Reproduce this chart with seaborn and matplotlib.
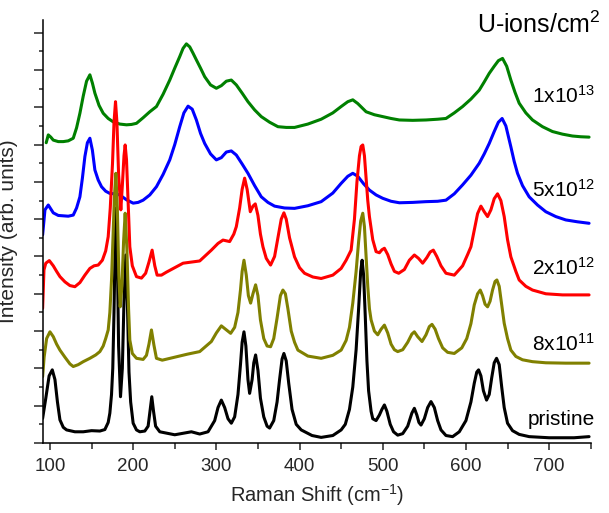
#Raman spectra of U-ion irradiated samples, stacked traces
#-------------------------------------------IMPORTS----------------------------------------------------------------
import matplotlib
matplotlib.use("Agg")
import matplotlib.pyplot as plt
from matplotlib.ticker import MultipleLocator
import numpy as np
import pandas as pd
import seaborn as sns

#----------------------------------------DATA----------------------------------------------------------------------
# x = Raman shift (cm-1), y = stacked intensity (arb. units, traces already offset)
pristine_x = [91.2, 95, 99, 102.8, 106, 109, 112, 116, 120, 130, 140, 150, 160, 166, 170, 172, 174, 175.5, 177,
              178.5, 179.5, 181, 182.5, 184.8, 187, 189, 191.2, 193, 195, 197, 200, 204, 208, 214, 218, 220.5,
              222.4, 224.5, 227, 232, 250, 270, 280, 290, 298, 302, 306, 310, 314, 318, 322, 326, 329, 331,
              333.2, 335.5, 338, 340, 343, 345, 347.2, 350, 353, 357, 361, 364, 369, 373, 376, 379, 381.2, 384,
              387, 391, 396, 402, 415, 426, 440, 450, 455, 460, 464, 468, 471, 473.5, 475.2, 477, 479, 481, 483,
              486, 488, 492, 496, 499, 502, 505, 509, 513, 518, 524, 530, 535, 538, 541, 543.5, 546, 550, 554,
              558, 562, 566, 570, 576, 584, 592, 600, 606, 610, 613, 615.2, 618, 621, 624.8, 628, 631, 634,
              636.8, 640, 643, 646, 650, 656, 664, 676, 700, 716, 730, 748]
pristine_y = [0.66, 1.2, 1.8, 1.96, 1.7, 1.1, 0.62, 0.42, 0.35, 0.3, 0.3, 0.33, 0.32, 0.36, 0.55, 0.8, 1.3, 2.0, 3.5,
              5.5, 6.3, 5.0, 2.6, 1.24, 2.0, 3.8, 5.04, 3.8, 1.9, 1.1, 0.53, 0.35, 0.3, 0.32, 0.45, 0.9,
              1.24, 0.85, 0.45, 0.3, 0.22, 0.3, 0.24, 0.3, 0.6, 0.95, 1.15, 0.95, 0.65, 0.53, 0.7, 1.3, 2.1, 2.7,
              2.98, 2.6, 1.7, 1.33, 1.7, 2.15, 2.36, 1.95, 1.2, 0.7, 0.45, 0.4, 0.6, 1.1, 1.7, 2.25, 2.4, 2.2,
              1.6, 0.9, 0.5, 0.35, 0.2, 0.15, 0.2, 0.35, 0.5, 0.9, 1.5, 2.5, 3.6, 4.6, 4.9, 4.5, 3.4, 2.2, 1.4,
              0.85, 0.65, 0.6, 0.75, 0.9, 1.02, 0.85, 0.5, 0.3, 0.21, 0.25, 0.45, 0.8, 0.93, 0.75, 0.55, 0.48, 0.65, 0.95,
              1.11, 0.95, 0.6, 0.35, 0.2, 0.17, 0.3, 0.6, 1.1, 1.6, 1.9, 1.96, 1.8, 1.4, 1.15, 1.3, 1.75, 2.15,
              2.27, 2.1, 1.5, 0.95, 0.53, 0.33, 0.23, 0.17, 0.14, 0.14, 0.14, 0.17]

d8e11_x = [91.2, 93, 96, 100, 104, 108, 112, 118, 124, 128, 134, 140, 148, 155, 160, 164, 167, 170, 172, 174, 176,
           177.5, 179.2, 181, 182.8, 184.4, 186.5, 188.5, 190.4, 192.5, 194.5, 196, 199, 204, 212, 216, 219, 222,
           225, 228, 235, 250, 265, 280, 294, 300, 306, 311, 317.2, 322, 326, 329, 331, 333.2, 336, 338.5, 341.2,
           344, 347.2, 350, 353, 357, 361, 365.2, 369, 373, 377, 380, 383, 386, 390, 394, 398, 410, 426, 440,
           450, 456, 460, 464, 468, 471, 473.5, 476, 478, 480, 482, 484, 486, 490, 494, 498, 502, 506, 510, 514,
           518, 524, 530, 535, 538, 542, 547.2, 552, 556, 559.2, 563, 567, 572, 578, 586, 595, 601, 606, 610,
           614, 617.2, 620, 623, 626, 629, 632, 635, 637.2, 640, 643, 646, 650, 654, 660, 668, 680, 696, 720, 748]
d8e11_y = [1.78, 2.3, 2.8, 2.98, 2.85, 2.65, 2.49, 2.3, 2.12, 2.05, 2.1, 2.18, 2.27, 2.36, 2.45, 2.6, 2.8, 3.03, 3.5, 4.37, 5.6,
           6.6, 7.23, 6.3, 4.5, 3.65, 4.2, 5.4, 6.16, 5.2, 3.6, 2.76, 2.4, 2.27, 2.24, 2.35, 2.65, 3.03,
           2.62, 2.27, 2.22, 2.3, 2.38, 2.45, 2.72, 2.95, 3.14, 3.05, 2.94, 3.1, 3.5, 4.1, 4.6, 4.9, 4.5, 3.95, 3.75,
           4.0, 4.24, 3.95, 3.3, 2.8, 2.6, 2.58, 2.8, 3.35, 3.95, 4.1, 4.0, 3.6, 3.0, 2.7, 2.49, 2.33, 2.27, 2.35,
           2.49, 2.75, 3.1, 3.75, 4.6, 5.4, 5.95, 6.16, 5.8, 5.0, 4.2, 3.6, 3.3, 3.0, 2.9, 3.05, 3.16, 2.95, 2.65, 2.5,
           2.45, 2.5, 2.7, 2.92, 2.98, 2.85, 2.72, 2.9, 3.12, 3.18, 3.05, 2.8, 2.55, 2.43, 2.4, 2.55, 2.8, 3.2, 3.7,
           4.0, 4.1, 3.95, 3.72, 3.65, 3.8, 4.1, 4.33, 4.37, 4.2, 3.7, 3.21, 2.8, 2.49, 2.32, 2.23, 2.18, 2.15, 2.14, 2.14]

d2e12_x = [91.2, 92.8, 95, 99.2, 104, 108, 112, 118, 124, 130, 136, 142, 148, 153, 158, 163, 167, 170, 172.5,
           175.2, 177, 178.8, 180.5, 182.5, 185.2, 187, 189, 190.4, 192, 194, 196, 199, 204, 210, 215, 219,
           222.8, 226, 228.8, 234, 240, 250, 260, 274, 280, 294, 302, 308, 316, 321, 324, 328, 331, 334, 337,
           340.8, 344, 346.8, 350, 353, 356, 360, 365.2, 370, 374, 378, 381.2, 384, 388, 394, 400, 406, 416,
           426, 440, 450, 456, 462, 466, 469, 472, 474, 476, 478, 480, 482, 484, 488, 492, 496, 499, 502, 506,
           510, 514, 519.2, 526, 532, 538, 543, 548, 553, 557, 560.8, 565, 570, 576, 586, 596, 602, 606, 610,
           614, 618, 622, 626, 630, 634, 638, 642, 646, 650, 654, 660, 664, 672, 680, 696, 716, 748]
d2e12_y = [3.61, 4.64, 4.82, 4.89, 4.75, 4.6, 4.46, 4.32, 4.22, 4.19, 4.3, 4.5, 4.68, 4.75, 4.77, 4.9, 5.15, 5.53, 6.3,
           7.5, 8.6, 9.15, 8.6, 7.2, 6.25, 6.9, 7.7, 7.99, 7.6, 6.4, 5.26, 4.75, 4.46, 4.42, 4.55, 4.85,
           5.17, 4.75, 4.5, 4.5, 4.58, 4.7, 4.82, 4.86, 4.88, 5.17, 5.35, 5.44, 5.4, 5.6, 5.8, 6.3, 6.8, 7.1, 6.8,
           6.2, 6.35, 6.41, 6.1, 5.6, 5.26, 4.95, 4.77, 5.0, 5.5, 6.0, 6.17, 6.0, 5.5, 4.99, 4.7, 4.55, 4.45,
           4.41, 4.5, 4.68, 4.9, 5.17, 6.0, 7.0, 7.7, 7.95, 7.99, 7.7, 7.1, 6.5, 6.07, 5.45, 5.13, 5.1, 5.18, 5.22, 5.05,
           4.8, 4.6, 4.55, 4.65, 4.9, 5.04, 4.95, 4.82, 4.97, 5.12, 5.17, 5.0, 4.75, 4.55, 4.5, 4.75, 5.05, 5.26, 5.7,
           6.15, 6.35, 6.2, 6.07, 6.25, 6.55, 6.68, 6.5, 6.07, 5.45, 4.99, 4.6, 4.37, 4.2, 4.1, 4.0, 3.97, 3.97]

d5e12_x = [91.2, 94, 98, 104, 110, 116, 122, 128, 132, 136, 139, 142, 145, 148, 151, 154, 158, 162, 167, 172,
           178, 184, 192, 200, 206, 212, 220, 228, 236, 244, 250, 256, 261, 266, 271, 276, 281, 286, 293, 300,
           306, 312, 318, 324, 331, 338, 346, 354, 362, 370, 382, 394, 410, 426, 440, 450, 458, 464, 470, 477,
           484, 492, 500, 510, 520, 536, 552, 566, 576, 586, 596, 606, 616, 622, 628, 634, 639, 643.5, 648, 654,
           658, 662, 668, 676, 686, 696, 708, 720, 734, 748]
d5e12_y = [5.58, 6.25, 6.38, 6.17, 6.1, 6.09, 6.08, 6.11, 6.3, 6.6, 7.1, 7.68, 8.05, 8.17, 7.85, 7.32, 7.05, 6.87, 6.75, 6.69,
           6.68, 6.65, 6.52, 6.43, 6.45, 6.51, 6.65, 6.87, 7.2, 7.59, 8.0, 8.48, 8.85, 9.03, 8.95, 8.66, 8.3, 8.03, 7.75, 7.59,
           7.65, 7.8, 7.83, 7.72, 7.48, 7.23, 6.9, 6.6, 6.45, 6.35, 6.3, 6.29, 6.36, 6.47, 6.7, 6.96, 7.15, 7.23, 7.15, 6.95,
           6.78, 6.65, 6.56, 6.48, 6.44, 6.45, 6.47, 6.48, 6.51, 6.68, 6.92, 7.18, 7.5, 7.75, 8.03, 8.35, 8.6, 8.7, 8.5, 7.94,
           7.55, 7.23, 6.9, 6.6, 6.38, 6.2, 6.07, 5.98, 5.93, 5.89]

d1e13_x = [95.5, 98, 101, 104, 110, 116, 122, 128, 132, 136, 140, 144, 148, 151, 154, 159, 164, 170, 176, 184,
           192, 198, 204, 212, 220, 228, 236, 244, 250, 256, 260, 264, 268, 272, 276, 281, 286, 293, 300, 306,
           312, 318, 324, 331, 338, 346, 354, 364, 374, 384, 394, 410, 426, 440, 450, 458, 464, 470, 480, 490,
           500, 510, 520, 536, 552, 566, 576, 586, 596, 606, 616, 622, 628, 634, 639, 644, 649, 654, 659, 664,
           672, 680, 692, 704, 716, 728, 738, 748]
d1e13_y = [8.05, 8.26, 8.2, 8.12, 8.08, 8.08, 8.1, 8.17, 8.45, 8.84, 9.3, 9.7, 9.87, 9.65, 9.38, 9.05, 8.84, 8.7, 8.61, 8.55,
           8.53, 8.54, 8.57, 8.72, 8.88, 9.02, 9.35, 9.73, 10.05, 10.36, 10.58, 10.7, 10.62, 10.45, 10.27, 10.05, 9.82, 9.6, 9.51, 9.58,
           9.7, 9.73, 9.6, 9.38, 9.15, 8.93, 8.75, 8.6, 8.48, 8.46, 8.46, 8.55, 8.68, 8.85, 9.02, 9.15, 9.2, 9.1, 8.88, 8.8,
           8.75, 8.7, 8.66, 8.65, 8.66, 8.68, 8.7, 8.85, 9.02, 9.22, 9.46, 9.68, 9.91, 10.1, 10.25, 10.31, 10.1, 9.73, 9.4, 9.11,
           8.85, 8.66, 8.48, 8.35, 8.28, 8.23, 8.21, 8.2]

labels = ["1x10$^{13}$", "5x10$^{12}$", "2x10$^{12}$", "8x10$^{11}$", "pristine"]
label_y = [9.12, 6.6, 4.5, 2.47, 0.48]   # baseline of each trace label
colors = ["#008000", "#0000ff", "#ff0000", "#808000", "#000000"]

#----------------------------------------BUILD LONG TABLE----------------------------------------------------------
series_x = [d1e13_x, d5e12_x, d2e12_x, d8e11_x, pristine_x]
series_y = [d1e13_y, d5e12_y, d2e12_y, d8e11_y, pristine_y]
frames = []
for lab, xs, ys in zip(labels, series_x, series_y):
    frames.append(pd.DataFrame({"shift": xs, "intensity": ys, "dose": lab}))
spectra = pd.concat(frames, ignore_index=True)

#----------------------------------------PLOT----------------------------------------------------------------------
sns.set_style("ticks")
plt.rcParams["font.family"] = ["Liberation Sans", "DejaVu Sans"]
plt.rcParams["mathtext.default"] = "regular"

fig = plt.figure(figsize=(6.09, 5.13), dpi=100)
ax = fig.add_axes([0.070, 0.1365, 0.900, 0.8245])

# draw order: olive ends on top of red and black, as in the original
order = ["1x10$^{13}$", "5x10$^{12}$", "2x10$^{12}$", "pristine", "8x10$^{11}$"]
palette = dict(zip(labels, colors))
sns.lineplot(data=spectra, x="shift", y="intensity", hue="dose", hue_order=order, palette=palette,
             sort=False, estimator=None, linewidth=2.2, legend=False, ax=ax)

for lab, yy, c in zip(labels, label_y, colors):
    ax.text(755, yy, lab, ha="right", va="baseline", fontsize=15, color="black")
ax.text(762, 10.99, "U-ions/cm$^{2}$", ha="right", va="baseline", fontsize=18, color="black")

ax.set_xlim(91.2, 750)
ax.set_ylim(0, 11.34)
ax.xaxis.set_major_locator(MultipleLocator(100))
ax.xaxis.set_minor_locator(MultipleLocator(50))
ax.yaxis.set_major_locator(MultipleLocator(1))
ax.yaxis.set_minor_locator(MultipleLocator(0.5))
ax.set_yticklabels([])
ax.tick_params(axis="x", which="major", direction="out", length=5, width=1.1, labelsize=13.5, pad=6)
ax.tick_params(axis="x", which="minor", direction="out", length=4, width=1.1)
ax.tick_params(axis="y", which="major", direction="out", length=6.5, width=1.1)
ax.tick_params(axis="y", which="minor", direction="out", length=3.2, width=1.1)
for side in ["left", "bottom"]:
    ax.spines[side].set_linewidth(1.1)
    ax.spines[side].set_color("black")
sns.despine(ax=ax)

ax.set_xlabel("Raman Shift (cm$^{-1}$)", fontsize=14.5, labelpad=5)
ax.set_ylabel("Intensity (arb. units)", fontsize=15, labelpad=8)

fig.savefig("out.png", dpi=100)
plt.close()
